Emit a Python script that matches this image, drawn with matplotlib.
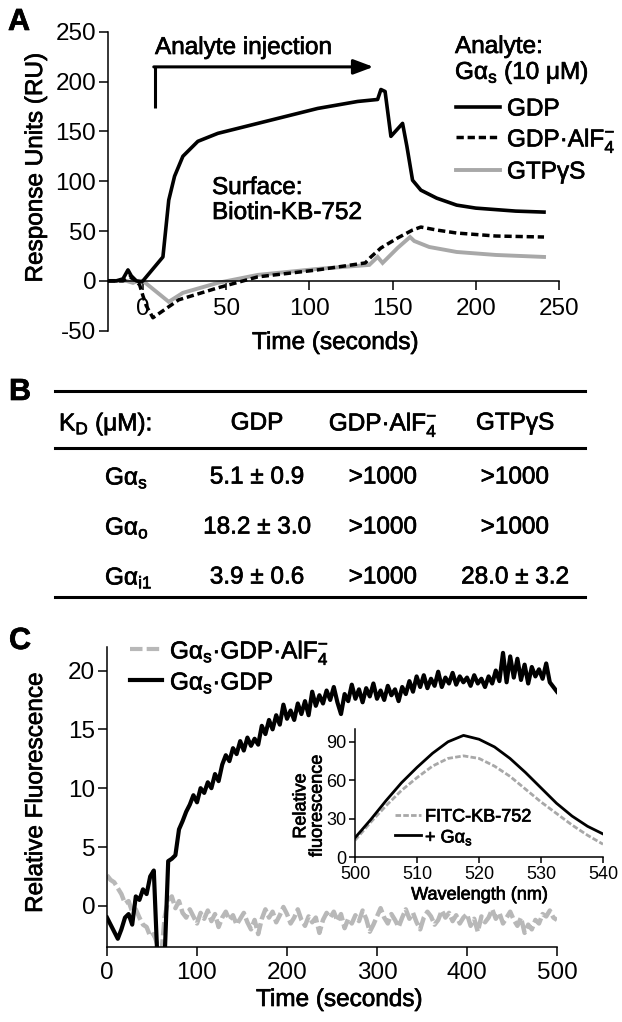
import matplotlib
matplotlib.use('Agg')
import matplotlib.pyplot as plt
from matplotlib.lines import Line2D
from matplotlib.text import Text
import matplotlib.patheffects as pe

plt.rcParams['font.family'] = ['Liberation Sans', 'DejaVu Sans']
plt.rcParams['mathtext.fontset'] = 'custom'
plt.rcParams['mathtext.rm'] = 'Liberation Sans'
plt.rcParams['mathtext.it'] = 'Liberation Sans:italic'
plt.rcParams['mathtext.bf'] = 'Liberation Sans:bold'
plt.rcParams['axes.unicode_minus'] = False

# ---------------- Panel A data (SPR sensorgrams) ----------------
gdp_t = [-21, -16, -12, -9, -7, -4, -1, 0, 12, 15.5, 19, 24, 33, 45, 57, 81, 105, 129, 141,
         143, 145.5, 149, 156, 158.6, 162, 167, 176.5, 188.5, 200, 224, 241]
gdp_v = [0, 0, 2, 11, 5, 0, -1, 0, 24, 81, 105, 125, 140, 148, 153, 163, 173, 180, 182,
         192, 190, 145, 158, 135, 101, 91, 83, 76, 73, 70, 69]
alf_t = [-21, -12, -8, -5, -2, 0, 2, 6, 21.5, 45, 69, 105, 133.6, 137, 143, 153, 162, 167,
         176.5, 188.5, 212, 241]
alf_v = [0, 0, 4, 1, -4, -15, -25, -37, -19, -7, 4, 11, 18, 24, 33, 43, 51, 54, 51, 48, 45, 44]
gtp_t = [-21, -10, -6, -3, 0, 15.5, 24, 45, 69, 105, 136, 141, 144, 153, 160.5, 163, 172,
         188.5, 212, 241]
gtp_v = [0, 0, -2, 0, 0, -21, -12, -2, 6, 12, 16, 24, 18, 33, 44, 40, 34, 29, 26, 24]
a_xticks = [0, 50, 100, 150, 200, 250]
a_yticks = [-50, 0, 50, 100, 150, 200, 250]
a_legend = ['GDP', r'GDP·AlF$_4^{-}$', 'GTPγS']

# ---------------- Panel B data (table) ----------------
table_header = [r'K$_\mathrm{D}$ (μM):', 'GDP', r'GDP·AlF$_4^{-}$', 'GTPγS']
table_rows = [r'Gα$_\mathrm{s}$', r'Gα$_\mathrm{o}$', r'Gα$_\mathrm{i1}$']
table_vals = [['5.1 ± 0.9', '>1000', '>1000'],
              ['18.2 ± 3.0', '>1000', '>1000'],
              ['3.9 ± 0.6', '>1000', '28.0 ± 3.2']]

# ---------------- Panel C data (fluorescence time course) ----------------
c_t = list(range(0, 501, 4))
c_gdp = [-1.0, -1.6, -2.2, -2.8, -2.0, -1.0, -0.7, -1.6, 0.8, 0.5,
         1.4, 1.0, 2.5, 3.0, -4.5, -4.5, -4.5, 3.8, 4.0, 4.3,
         6.5, 7.2, 8.0, 8.6, 9.4, 8.8, 10.0, 9.6, 10.5, 10.0,
         11.2, 10.6, 12.0, 12.8, 12.3, 13.4, 12.9, 14.0, 13.2, 14.3,
         13.6, 14.2, 13.7, 15.3, 14.6, 15.8, 15.0, 16.2, 15.4, 17.1,
         15.9, 16.6, 15.8, 17.2, 16.3, 17.4, 16.2, 18.2, 17.0, 17.9,
         17.2, 18.3, 17.5, 18.6, 17.3, 16.3, 18.0, 17.4, 18.8, 17.6,
         18.4, 17.3, 18.5, 17.8, 18.9, 17.6, 18.3, 17.5, 18.7, 17.9,
         18.4, 17.4, 18.6, 18.0, 19.1, 18.2, 19.5, 18.6, 19.6, 18.5,
         19.3, 18.7, 19.9, 18.6, 19.4, 18.9, 19.8, 18.8, 19.5, 19.0,
         19.4, 18.7, 19.6, 18.9, 19.3, 18.6, 19.5, 18.9, 20.0, 19.1,
         21.5, 19.0, 21.2, 19.4, 21.0, 19.2, 20.5, 18.9, 20.3, 19.5,
         20.1, 19.3, 20.6, 19.0, 18.6, 18.2]
c_alf = [2.6, 2.2, 2.0, 1.5, 1.0, 0.2, 0.4, -0.5, -0.3, -1.0,
         -1.6, -1.8, -2.6, -2.4, -3.3, -4.5, -1.0, 0.5, 0.8, -0.2,
         0.4, -0.6, -1.0, -0.3, -0.9, -1.5, -0.6, -1.1, -0.4, -1.3,
         -0.7, -1.8, -1.0, -0.5, -1.2, -0.8, -1.6, -1.1, -0.6, -1.4,
         -2.0, -1.2, -2.4, -1.1, -0.3, -1.0, -0.5, -1.4, -0.8, -0.1,
         -0.7, -1.5, -1.0, -0.3, -1.2, -1.7, -0.9, -1.4, -1.0, -2.3,
         -1.2, -0.6, -1.0, -0.5, -1.3, -0.7, -1.9, -1.1, -1.5, -0.8,
         -1.3, -0.4, -1.1, -2.2, -1.6, -0.9, -0.2, -1.0, -1.5, -0.7,
         -1.2, -1.8, -1.0, -0.3, -1.1, -0.6, -1.4, -2.0, -1.0, -0.5,
         -0.9, -1.6, -1.2, -0.4, -1.0, -0.6, -1.3, -0.8, -1.5, -1.0,
         -0.7, -1.7, -1.1, -2.2, -0.9, -1.4, -1.0, -0.3, -1.1, -0.6,
         -1.5, -1.0, -0.5, -1.2, -1.7, -1.0, -2.3, -1.6, -2.0, -1.2,
         -1.5, -0.7, -0.9, -0.4, -1.0, -1.2]
c_legend = [r'Gα$_\mathrm{s}$·GDP·AlF$_4^{-}$', r'Gα$_\mathrm{s}$·GDP']

# ---------------- Inset data (emission spectra) ----------------
wl = [500, 502.5, 505, 507.5, 510, 512.5, 515, 517.5, 520, 522.5, 525, 527.5, 530,
      532.5, 535, 537.5, 540]
spec_gas = [15, 29, 44, 58, 70, 81, 90, 95, 92, 86, 77, 66, 54, 42, 32, 24, 18]
spec_fitc = [13, 27, 40, 52, 62, 71, 77, 79, 77, 71, 63, 53, 43, 34, 25, 17, 10]
inset_legend = ['FITC-KB-752', r'+ Gα$_\mathrm{s}$']

# ---------------- Layout ----------------
W, H = 622, 1022
fig = plt.figure(figsize=(W / 100, H / 100), dpi=100)


def fx(px):
    return px / W


def fy(py):
    return 1 - py / H


FS = 17.5
GRAY_A = '#a8a8a8'
GRAY_C = '#b8b8b8'


def style_axes(ax, size, length, pad_x, pad_y):
    for s in ['top', 'right']:
        ax.spines[s].set_visible(False)
    for s in ['left', 'bottom']:
        ax.spines[s].set_linewidth(1.1)
    ax.tick_params(axis='both', direction='out', length=length, width=1.1,
                   labelsize=size, colors='black')
    ax.tick_params(axis='x', pad=pad_x)
    ax.tick_params(axis='y', pad=pad_y)


# ===== Panel A =====
axA = fig.add_axes([fx(108), fy(330.7), (559 - 108) / W, (330.7 - 31.7) / H])
axA.plot(gtp_t, gtp_v, color=GRAY_A, lw=2.8, solid_joinstyle='miter', zorder=2)
axA.plot(alf_t, alf_v, color='black', lw=2.5, linestyle=(0, (2.1, 1.1)), zorder=3)
axA.plot(gdp_t, gdp_v, color='black', lw=2.6, zorder=4)
axA.set_xlim(-21, 250)
axA.set_ylim(-50, 250)
axA.spines['bottom'].set_position(('data', 0))
axA.set_xticks(a_xticks)
axA.set_yticks(a_yticks)
style_axes(axA, FS, 6.5, 6, 2)
axA.set_xlabel('Time (seconds)', fontsize=FS)
axA.xaxis.set_label_coords((335 - 108) / 451, (330.7 - 343) / 299)
axA.xaxis.label.set_va('center')
axA.set_ylabel('Response Units (RU)', fontsize=FS)
axA.yaxis.set_label_coords((36 - 108) / 451, (330.7 - 168) / 299)
axA.yaxis.label.set_va('center')

# injection arrow (data coords)
axA.plot([7.2, 7.2], [173.5, 214.7], color='black', lw=2.2, solid_capstyle='butt')
axA.annotate('', xy=(138.5, 214.7), xytext=(6.5, 214.7),
             arrowprops=dict(arrowstyle='-|>,head_length=1.2,head_width=0.45',
                             color='black', lw=2.2, shrinkA=0, shrinkB=0))
fig.text(fx(155), fy(48), 'Analyte injection', fontsize=FS, ha='left', va='center')
fig.text(fx(212), fy(188), 'Surface:', fontsize=FS, ha='left', va='center')
fig.text(fx(212), fy(213), 'Biotin-KB-752', fontsize=FS, ha='left', va='center')
fig.text(fx(455), fy(47), 'Analyte:', fontsize=FS, ha='left', va='center')
fig.text(fx(455), fy(73), r'Gα$_\mathrm{s}$ (10 μM)', fontsize=FS, ha='left', va='center')

leg_y = [107, 137, 170]
leg_styles = [dict(color='black', lw=2.6, linestyle='-'),
              dict(color='black', lw=2.5, linestyle=(0, (2.1, 1.1))),
              dict(color=GRAY_A, lw=2.8, linestyle='-')]
for yy, st, lab in zip(leg_y, leg_styles, a_legend):
    fig.add_artist(Line2D([fx(456), fx(500)], [fy(yy), fy(yy)],
                          transform=fig.transFigure, **st))
    fig.text(fx(507), fy(yy), lab, fontsize=FS, ha='left', va='center_baseline')

# ===== Panel B (table) =====
for yy in [391, 448, 597]:
    fig.add_artist(Line2D([fx(55), fx(585)], [fy(yy), fy(yy)],
                          transform=fig.transFigure, color='black', lw=2.2))
col_x = [257, 383, 515]
fig.text(fx(59), fy(421), table_header[0], fontsize=FS, ha='left', va='center_baseline')
for cx, lab in zip(col_x, table_header[1:]):
    fig.text(fx(cx), fy(421), lab, fontsize=FS, ha='center', va='center_baseline')
row_y = [475, 525, 575]
for ry, rlab, vals in zip(row_y, table_rows, table_vals):
    fig.text(fx(105), fy(ry), rlab, fontsize=FS, ha='left', va='center_baseline')
    for cx, v in zip(col_x, vals):
        fig.text(fx(cx), fy(ry), v, fontsize=FS, ha='center', va='center_baseline')

# ===== Panel C =====
axC = fig.add_axes([fx(107), fy(947), (557 - 107) / W, (947 - 647) / H])
axC.plot(c_t, c_alf, color=GRAY_C, lw=3.2, linestyle=(0, (3, 0.9)), zorder=2)
axC.plot(c_t, c_gdp, color='black', lw=3.0, zorder=3)
axC.set_xlim(0, 500)
axC.set_ylim(-3.5, 22)
axC.set_xticks([0, 100, 200, 300, 400, 500])
axC.set_yticks([0, 5, 10, 15, 20])
style_axes(axC, FS, 6.5, 4, 2)
axC.set_xlabel('Time (seconds)', fontsize=FS)
axC.xaxis.set_label_coords((339 - 107) / 450, (947 - 1000) / 300)
axC.xaxis.label.set_va('center')
axC.set_ylabel('Relative Fluorescence', fontsize=FS)
axC.yaxis.set_label_coords((36 - 107) / 450, (947 - 793) / 300)
axC.yaxis.label.set_va('center')

c_leg_y = [649, 680]
c_leg_styles = [dict(color=GRAY_C, lw=3.0, linestyle=(0, (3, 1))),
                dict(color='black', lw=3.0, linestyle='-')]
for yy, st, lab in zip(c_leg_y, c_leg_styles, c_legend):
    fig.add_artist(Line2D([fx(130), fx(162)], [fy(yy), fy(yy)],
                          transform=fig.transFigure, **st))
    fig.text(fx(170), fy(yy), lab, fontsize=FS, ha='left', va='center_baseline')

# ===== Inset =====
IFS = 13
axI = fig.add_axes([fx(355), fy(857), (603 - 355) / W, (857 - 729) / H])
axI.patch.set_alpha(0)
axI.plot(wl, spec_fitc, color='#a8a8a8', lw=2.0, linestyle=(0, (2, 0.8)))
axI.plot(wl, spec_gas, color='black', lw=2.0)
axI.set_xlim(500, 540)
axI.set_ylim(0, 100)
axI.set_xticks([500, 510, 520, 530, 540])
axI.set_yticks([0, 30, 60, 90])
style_axes(axI, IFS, 4.5, 2, 2)
axI.set_xlabel('Wavelength (nm)', fontsize=IFS)
axI.xaxis.set_label_coords(0.502, (857 - 895) / 128)
axI.xaxis.label.set_va('center')
axI.set_ylabel('Relative\nfluorescence', fontsize=IFS, linespacing=0.95)
axI.yaxis.set_label_coords((309 - 355) / 248, (857 - 806) / 128)
axI.yaxis.label.set_va('center')

i_leg_y = [815, 835]
i_leg_styles = [dict(color='#a8a8a8', lw=2.0, linestyle=(0, (2, 0.8))),
                dict(color='black', lw=2.0, linestyle='-')]
for yy, st, lab in zip(i_leg_y, i_leg_styles, inset_legend):
    fig.add_artist(Line2D([fx(395), fx(421)], [fy(yy), fy(yy)],
                          transform=fig.transFigure, **st))
    fig.text(fx(425), fy(yy), lab, fontsize=IFS, ha='left', va='center_baseline')

# panel letters
for lab, (px, py) in zip(['A', 'B', 'C'], [(19, 22), (20, 392), (20, 641)]):
    fig.text(fx(px), fy(py), lab, fontsize=22, fontweight='bold', ha='center', va='center')

# slightly heavier glyphs, like the reference rendering
for t in fig.findobj(Text):
    if t.get_text():
        t.set_path_effects([pe.withStroke(linewidth=0.5, foreground='black')])

fig.savefig('out.png', dpi=100)
